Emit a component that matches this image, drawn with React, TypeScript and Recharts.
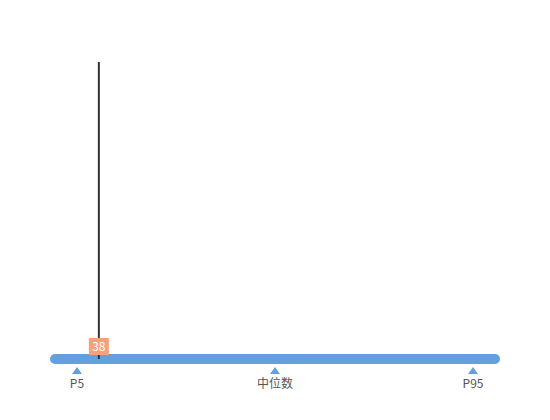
import React from "react";
import { ComposedChart, XAxis, YAxis, ReferenceArea, ReferenceLine, Scatter } from "recharts";

const rangeMin = 0;
const rangeMax = 350;
const tickValues = [21, 175, 329];
const tickLabels = ["P5", "中位数", "P95"];
const currentValue = 38;

const markerData = [{ x: currentValue, y: 0 }];

const BLUE = "#62A0DE";
const SALMON = "#F7A07A";
const FONT = "'Noto Sans CJK SC', 'Noto Sans', sans-serif";

const BarShape = (props: any) => {
  const { x, y, width } = props;
  return <rect x={x} y={y - 5} width={width} height={10} rx={5} ry={5} fill={BLUE} />;
};

const ValueLabel = (props: any) => {
  const { cx, cy } = props;
  return (
    <g>
      <rect x={cx - 10} y={cy - 21} width={20} height={17} fill={SALMON} />
      <text x={cx} y={cy - 8} textAnchor="middle" fill="#fff" fontSize={12} fontFamily={FONT}>
        {String(currentValue)}
      </text>
    </g>
  );
};

const Tick = (props: any) => {
  const { x, y, payload } = props;
  const i = tickValues.indexOf(payload.value);
  return (
    <g>
      <path d={`M${x} ${y + 8} L${x + 5} ${y + 15} L${x - 5} ${y + 15} Z`} fill={BLUE} />
      <text x={x} y={y + 29} textAnchor="middle" fill="#555" fontSize={12} fontFamily={FONT}>
        {tickLabels[i]}
      </text>
    </g>
  );
};

export default function App() {
  return (
    <div style={{ position: "absolute", left: 0, top: 0, width: 550, height: 420, background: "#fff" }}>
      <ComposedChart width={550} height={420} margin={{ top: 62, right: 50, bottom: 21, left: 50 }}>
        <XAxis
          type="number"
          dataKey="x"
          domain={[rangeMin, rangeMax]}
          ticks={tickValues}
          axisLine={false}
          tickLine={false}
          tickSize={0}
          tickMargin={0}
          height={40}
          tick={<Tick />}
          interval={0}
          allowDataOverflow
        />
        <YAxis type="number" dataKey="y" domain={[0, 100]} hide allowDataOverflow />
        <ReferenceArea x1={rangeMin} x2={rangeMax} y1={0} y2={0} shape={<BarShape />} ifOverflow="visible" />
        <ReferenceLine
          segment={[
            { x: currentValue, y: 0 },
            { x: currentValue, y: 100 },
          ]}
          stroke="#333"
          strokeWidth={2}
        />
        <Scatter data={markerData} dataKey="y" shape={<ValueLabel />} isAnimationActive={false} />
      </ComposedChart>
    </div>
  );
}
